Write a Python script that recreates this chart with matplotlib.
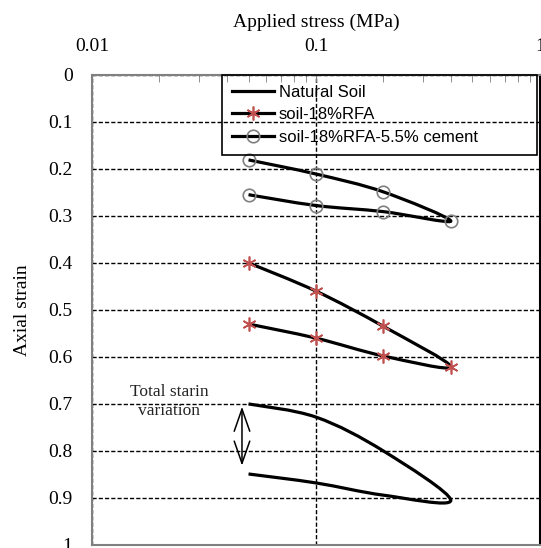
import matplotlib
matplotlib.use("Agg")
import matplotlib.pyplot as plt
import numpy as np
from matplotlib.path import Path
from matplotlib.patches import PathPatch
from matplotlib.lines import Line2D

# Loading (0.05 -> 0.4 MPa) then unloading back to 0.05 MPa
stress = [0.05, 0.1, 0.2, 0.4, 0.2, 0.1, 0.05]
natural_soil = [0.70, 0.728, 0.80, 0.905, 0.894, 0.868, 0.849]
soil_rfa = [0.40, 0.46, 0.535, 0.621, 0.598, 0.56, 0.53]
soil_rfa_cement = [0.181, 0.211, 0.249, 0.311, 0.291, 0.278, 0.255]

legend_labels = ["Natural Soil", "soil-18%RFA", "soil-18%RFA-5.5% cement"]
y_ticks = [0, 0.1, 0.2, 0.3, 0.4, 0.5, 0.6, 0.7, 0.8, 0.9, 1]
x_ticks = [0.01, 0.1, 1]

serif = "Liberation Serif"
sans = "Liberation Sans"


def smooth_path(xs, ys):
    # Bezier smoothing (Catmull-Rom style) done in log-x space
    p = np.column_stack([np.log10(xs), ys])
    p = np.vstack([p[0], p, p[-1]])
    verts = [p[1]]
    codes = [Path.MOVETO]
    for i in range(1, len(p) - 2):
        c1 = p[i] + (p[i + 1] - p[i - 1]) / 6
        c2 = p[i + 1] - (p[i + 2] - p[i]) / 6
        verts += [c1, c2, p[i + 1]]
        codes += [Path.CURVE4] * 3
    verts = np.array(verts)
    verts[:, 0] = 10 ** verts[:, 0]
    return Path(verts, codes)


fig = plt.figure(figsize=(5.41, 5.48), dpi=100)
ax = fig.add_axes([0.170, 0.0055, 0.828, 0.858])

ax.set_xscale("log")
ax.set_xlim(0.01, 1)
ax.set_ylim(1, 0)

ax.grid(True, which="major", color="black", linestyle=(0, (3, 1.5)), linewidth=1.0)
ax.set_axisbelow(True)

line_kw = dict(facecolor="none", edgecolor="black", linewidth=2.3, zorder=3)
for series in (natural_soil, soil_rfa, soil_rfa_cement):
    ax.add_patch(PathPatch(smooth_path(stress, series), **line_kw))

ax.plot(stress, soil_rfa, linestyle="none", marker=(6, 2, 0), markersize=10,
        markeredgecolor="#c0504d", markeredgewidth=1.2, zorder=4)
ax.plot(stress, soil_rfa_cement, linestyle="none", marker="o", markersize=9,
        markerfacecolor="none", markeredgecolor="#808080", markeredgewidth=1.2, zorder=4)

# Spread between start of loading and end of unloading for natural soil
ax.annotate("", xy=(stress[0] * 0.935, natural_soil[0]),
            xytext=(stress[0] * 0.935, natural_soil[-1]),
            arrowprops=dict(arrowstyle="<->,head_length=0.8,head_width=0.28",
                            color="black", lw=1.1, mutation_scale=20,
                            shrinkA=6, shrinkB=2))
ax.text(0.0221, 0.695, "Total starin\nvariation", ha="center", va="center",
        fontsize=12.5, family=serif, color="#222222", linespacing=1.25)

ax.xaxis.tick_top()
ax.xaxis.set_label_position("top")
ax.set_xticks(x_ticks)
ax.set_xticklabels([f"{v:g}" for v in x_ticks])
ax.set_yticks(y_ticks)
ax.set_yticklabels([f"{v:g}" for v in y_ticks])
ax.tick_params(axis="x", which="major", direction="in", length=5, pad=14,
               labelsize=14, color="#808080")
ax.tick_params(axis="x", which="minor", direction="in", length=5, color="#808080")
ax.tick_params(axis="y", length=0, pad=14, labelsize=14)
for lab in ax.get_xticklabels() + ax.get_yticklabels():
    lab.set_family(serif)

ax.set_xlabel("Applied stress (MPa)", fontsize=14, family=serif, labelpad=8)
ax.set_ylabel("Axial strain", fontsize=14, family=serif, labelpad=12)

for side in ("left", "top", "bottom"):
    ax.spines[side].set_color("#808080")
    ax.spines[side].set_linewidth(1.5)
ax.spines["right"].set_color("black")
ax.spines["right"].set_linewidth(1.5)

handles = [
    Line2D([], [], color="black", lw=2.3),
    Line2D([], [], color="black", lw=2.3, marker=(6, 2, 0), markersize=10,
           markeredgecolor="#c0504d", markeredgewidth=1.2),
    Line2D([], [], color="black", lw=2.3, marker="o", markersize=9,
           markerfacecolor="none", markeredgecolor="#808080", markeredgewidth=1.2),
]
leg = ax.legend(handles, legend_labels, loc="upper left",
                bbox_to_anchor=(0.29, 0.834, 0.703, 0.166), mode="expand",
                prop={"family": sans, "size": 12}, frameon=True, fancybox=False,
                framealpha=1, handlelength=2.5, handletextpad=0.3,
                labelspacing=0.45, borderpad=0.6, borderaxespad=0)
leg.get_frame().set_facecolor("none")
leg.get_frame().set_edgecolor("black")
leg.get_frame().set_linewidth(1.2)
leg.set_zorder(5)

fig.savefig("out.png", dpi=100)
